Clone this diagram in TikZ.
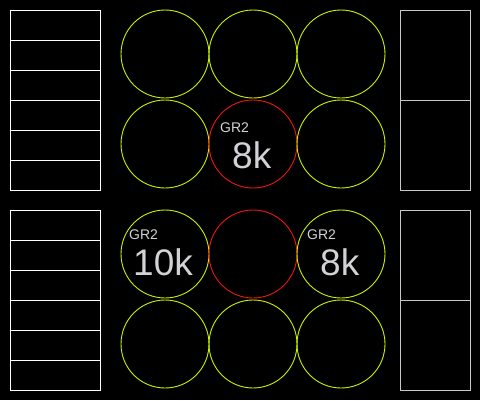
\documentclass[tikz,border=0pt]{standalone}
\usepackage{fontspec}
\setmainfont{Liberation Sans}
\usetikzlibrary{positioning}
\definecolor{wellgreen}{RGB}{204,240,0}
\definecolor{wellred}{RGB}{240,20,20}
\definecolor{labelgray}{RGB}{210,210,214}
\definecolor{baygray}{RGB}{200,200,200}

\begin{document}
\begin{tikzpicture}[x=1pt, y=-1pt,
    slot/.style={draw=white, line width=1pt, minimum width=90pt, minimum height=30pt, inner sep=0, outer sep=0, anchor=north west},
    bay/.style={draw=baygray, line width=1pt, minimum width=70pt, minimum height=90pt, inner sep=0, outer sep=0, anchor=north west},
    well/.style={circle, draw=wellgreen, line width=0.9pt, minimum size=88pt, inner sep=0},
    hot/.style={well, draw=wellred},
    grtag/.style={text=labelgray, inner sep=0, anchor=base west, font=\fontsize{14}{14}\selectfont},
    count/.style={text=labelgray, inner sep=0, anchor=base west, font=\fontsize{37}{37}\selectfont}]
    % Background
    \fill[black] (0,0) rectangle (480,400);
    \useasboundingbox (0,0) rectangle (480,400);

    % Slot stacks (Left)
    \foreach \i in {0,...,5} {
        \node[slot] (slotA\i) at (10, 10+30*\i) {};
        \node[slot] (slotB\i) at (10, 210+30*\i) {};
    }

    % Bays (Right)
    \node[bay] (bayA1) at (400, 10) {};
    \node[bay, below=0pt of bayA1] (bayA2) {};
    \node[bay] (bayB1) at (400, 210) {};
    \node[bay, below=0pt of bayB1] (bayB2) {};

    % Wells, upper block
    \node[well] (w11) at (165, 54) {};
    \node[well] (w12) at (253, 54) {};
    \node[well] (w13) at (341, 54) {};
    \node[well] (w21) at (165, 144) {};
    \node[hot]  (w22) at (253, 144) {};
    \node[well] (w23) at (341, 144) {};

    % Wells, lower block
    \node[well] (w31) at (165, 254) {};
    \node[hot]  (w32) at (253, 254) {};
    \node[well] (w33) at (341, 254) {};
    \node[well] (w41) at (165, 344) {};
    \node[well] (w42) at (253, 344) {};
    \node[well] (w43) at (341, 344) {};

    % Labels
    \node[grtag] (tag22) at (220, 132) {GR2};
    \node[count] (num22) at (232, 168) {8k};
    \node[grtag] (tag31) at (129, 239) {GR2};
    \node[count] (num31) at (133, 275) {10k};
    \node[grtag] (tag33) at (307, 239) {GR2};
    \node[count] (num33) at (320, 275) {8k};
\end{tikzpicture}
\end{document}
